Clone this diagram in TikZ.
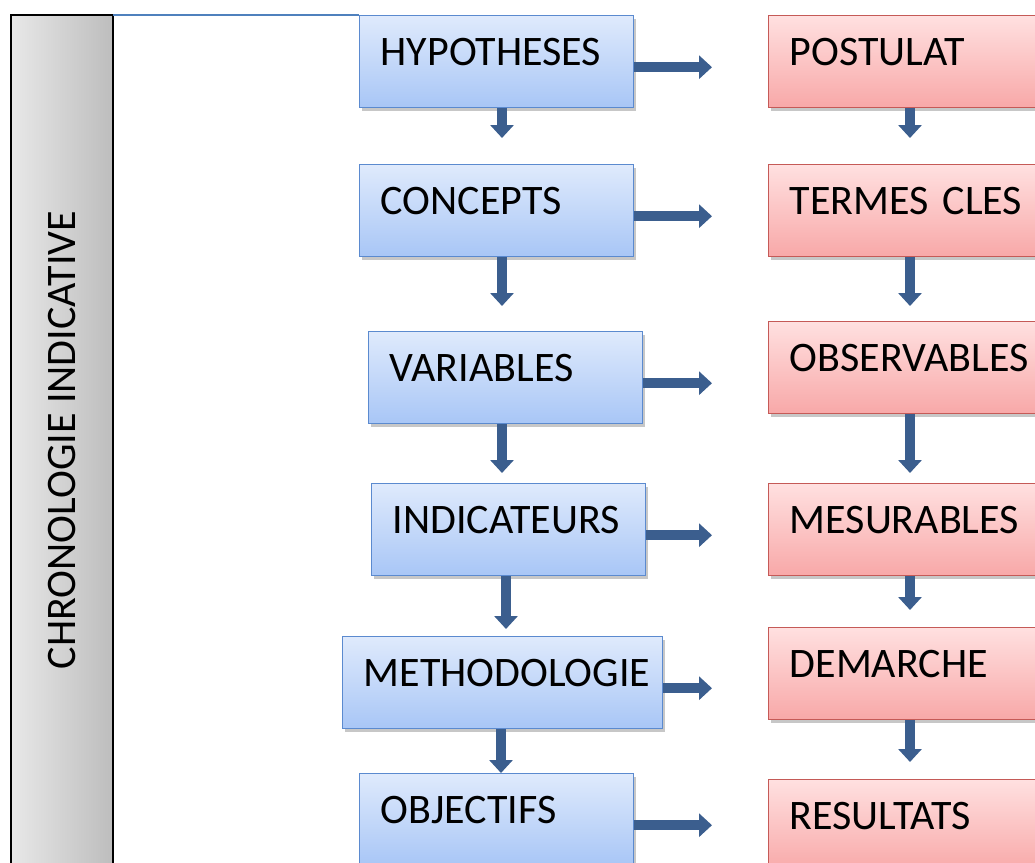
\documentclass[tikz,border=0pt]{standalone}
\usepackage{fontspec}
\setmainfont{Carlito}
\usepackage{graphicx}
\usetikzlibrary{arrows.meta,shadows}
\hyphenpenalty=10000
\exhyphenpenalty=10000
\definecolor{Trait}{HTML}{3B5E8E}
\definecolor{Filet}{HTML}{4F81BD}
\definecolor{BleuBord}{HTML}{5B8ACF}
\definecolor{BleuHaut}{HTML}{DFEAFC}
\definecolor{BleuBas}{HTML}{A8C6F6}
\definecolor{RougeBord}{HTML}{C55A57}
\definecolor{RougeHaut}{HTML}{FFE0E0}
\definecolor{RougeBas}{HTML}{F8A8A8}
\definecolor{GrisG}{HTML}{E8E8E8}
\definecolor{GrisD}{HTML}{BDBDBD}
\tikzset{
  etape/.style={
    draw=BleuBord, line width=1.4pt, top color=BleuHaut, bottom color=BleuBas,
    anchor=north west, align=left, inner xsep=21pt, inner ysep=23pt,
    text height=27pt, text depth=19pt, text width=232pt,
    font=\fontsize{42pt}{50pt}\selectfont,
    drop shadow={shadow xshift=2pt,shadow yshift=-3pt,opacity=.22,fill=black}
  },
  etapeRouge/.style={etape,draw=RougeBord,top color=RougeHaut,bottom color=RougeBas,text width=262pt},
  barre/.style={
    draw=black, line width=1.6pt, left color=GrisG, right color=GrisD,
    minimum width=102pt, minimum height=850pt, inner sep=0pt, outer sep=0pt,
    font=\fontsize{42pt}{50pt}\selectfont
  },
  fleche/.style={-{Triangle[width=23pt,length=13pt]},line width=9.5pt,draw=Trait},
  filet/.style={draw=Filet,line width=1.3pt}
}
\begin{document}
\begin{tikzpicture}[x=1pt,y=-1pt]
  \path[use as bounding box,clip] (0,0) rectangle (1035,862);
  \coordinate (colG) at (502,0);
  \coordinate (colD) at (910,0);
  \coordinate (bout) at (712,0);
  % colonne de gauche
  \node[barre] (chrono) at (62,440) {\rotatebox{90}{CHRONOLOGIE INDICATIVE}};
  % etapes
  \node[etape] (hyp) at (359,15) {HYPOTHESES};
  \node[etape] (conc) at (359,164) {CONCEPTS};
  \node[etape] (var) at (368,331) {VARIABLES};
  \node[etape] (ind) at (371,483) {INDICATEURS};
  \node[etape,text width=278pt] (meth) at (342,636) {METHODOLOGIE};
  \node[etape] (obj) at (359,773) {OBJECTIFS};
  % resultats attendus
  \node[etapeRouge] (post) at (768,15) {POSTULAT};
  \node[etapeRouge] (term) at (768,164) {TERMES CLES};
  \node[etapeRouge] (obs) at (768,321) {OBSERVABLES};
  \node[etapeRouge] (mes) at (768,483) {MESURABLES};
  \node[etapeRouge] (dem) at (768,627) {DEMARCHE};
  \node[etapeRouge] (res) at (768,779) {RESULTATS};
  \draw[filet] (chrono.north east) -- (chrono.north east -| hyp.west);
  % fleches verticales
  \draw[fleche,shorten >=26pt] (hyp.south -| colG) -- (conc.north -| colG);
  \draw[fleche,shorten >=25pt] (conc.south -| colG) -- (var.north -| colG);
  \draw[fleche,shorten >=10pt] (var.south -| colG) -- (ind.north -| colG);
  \draw[fleche,shorten >=7pt] ([xshift=4pt]ind.south -| colG) -- ([xshift=4pt]meth.north -| colG);
  \draw[fleche] ([xshift=-1pt]meth.south -| colG) -- ([xshift=-1pt]obj.north -| colG);
  \draw[fleche,shorten >=26pt] (post.south -| colD) -- (term.north -| colD);
  \draw[fleche,shorten >=15pt] (term.south -| colD) -- (obs.north -| colD);
  \draw[fleche,shorten >=10pt] (obs.south -| colD) -- (mes.north -| colD);
  \draw[fleche,shorten >=17pt] (mes.south -| colD) -- (dem.north -| colD);
  \draw[fleche,shorten >=17pt] (dem.south -| colD) -- (res.north -| colD);
  % fleches horizontales
  \draw[fleche] ([yshift=-5.5pt]hyp.east) -- ([yshift=-5.5pt]hyp.east -| bout);
  \draw[fleche] ([yshift=-5.5pt]conc.east) -- ([yshift=-5.5pt]conc.east -| bout);
  \draw[fleche] ([yshift=-5.5pt]var.east) -- ([yshift=-5.5pt]var.east -| bout);
  \draw[fleche] ([yshift=-5.5pt]ind.east) -- ([yshift=-5.5pt]ind.east -| bout);
  \draw[fleche] ([yshift=-5.5pt]meth.east) -- ([yshift=-5.5pt]meth.east -| bout);
  \draw[fleche] ([yshift=-5.5pt]obj.east) -- ([yshift=-5.5pt]obj.east -| bout);
\end{tikzpicture}
\end{document}
